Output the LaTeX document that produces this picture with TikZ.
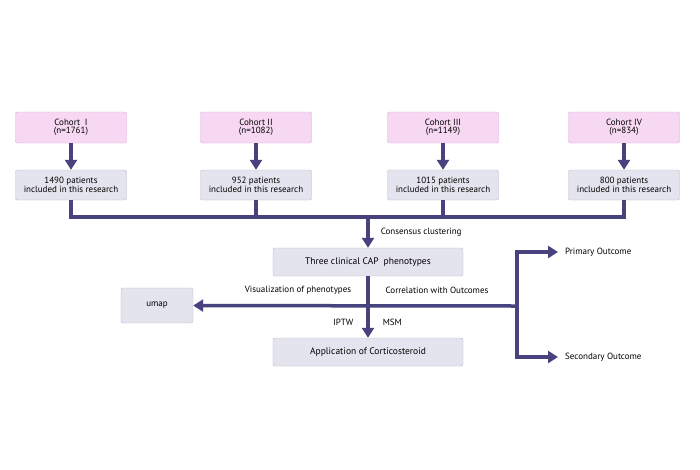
\documentclass[tikz,border=0pt]{standalone}
\usepackage{fontspec}
\setmainfont{PT Sans}
\usetikzlibrary{arrows.meta, positioning}
\definecolor{flowline}{HTML}{48437E}
\definecolor{pinkfill}{HTML}{F6D8F3}
\definecolor{pinkdraw}{HTML}{E0A2DC}
\definecolor{greyfill}{HTML}{E4E4EE}
\definecolor{greydraw}{HTML}{B8B8C8}

\begin{document}
\begin{tikzpicture}[x=1pt, y=-1pt,
    >={Triangle[length=10pt,width=12pt]},
    flow/.style={draw=flowline, line width=3.5pt},
    cohort/.style={draw=pinkdraw, fill=pinkfill, rounded corners=2pt,
      minimum width=111pt, minimum height=31pt, align=center, inner sep=1pt,
      font=\fontsize{9}{8.5}\selectfont},
    patients/.style={draw=greydraw, fill=greyfill, rounded corners=2pt,
      minimum width=111pt, minimum height=30pt, align=center, inner sep=1pt,
      font=\fontsize{9}{8.5}\selectfont},
    stage/.style={patients, minimum width=190pt, minimum height=28pt,
      font=\fontsize{9.5}{9.5}\selectfont},
    label/.style={font=\fontsize{9}{9}\selectfont, inner sep=1pt}]

    \useasboundingbox (0,0) rectangle (700,469);

    % cohorts
    \node[cohort] (c1) at (71,127.5)  {Cohort\ \ I\\(n=1761)};
    \node[cohort] (c2) at (256,127.5) {Cohort II\\(n=1082)};
    \node[cohort] (c3) at (443,127.5) {Cohort III\\(n=1149)};
    \node[cohort] (c4) at (624,127.5) {Cohort IV\\(n=834)};

    \node[patients] (p1) at (71,185)  {1490 patients\\included in this research};
    \node[patients] (p2) at (256,185) {952 patients\\included in this research};
    \node[patients] (p3) at (443,185) {1015 patients\\included in this research};
    \node[patients] (p4) at (624,185) {800 patients\\included in this research};

    \coordinate (join) at (368,217);

    \node[stage] (pheno) at (368,262) {Three clinical CAP\ \ phenotypes};
    \node[stage] (appl)  at (368,352) {Application of Corticosteroid};
    \node[patients, minimum width=72pt, minimum height=35pt] (umap) at (157,305.5) {umap};

    \coordinate (branch) at (517,306);
    \node[label, anchor=west] (prim) at (564,252) {Primary Outcome};
    \node[label, anchor=west] (sec)  at (564,357) {Secondary Outcome};

    \draw[flow,->] (c1) -- (p1);
    \draw[flow,->] (c2) -- (p2);
    \draw[flow,->] (c3) -- (p3);
    \draw[flow,->] (c4) -- (p4);

    \draw[flow] (p1.south) |- (join) -| (p4.south);
    \draw[flow] (p2.south) -- (p2.south |- join);
    \draw[flow] (p3.south) -- (p3.south |- join);
    \draw[flow,->] (join) -- (pheno)
      node[label, pos=0.5, right=10pt] {Consensus clustering};

    \draw[flow,->] (branch) -- (umap);
    \draw[flow,->] (pheno) -- (appl)
      node[label, pos=0.75, left=12pt] {IPTW}
      node[label, pos=0.75, right=12pt] {MSM};
    \draw[flow,->] (branch) |- ([xshift=-6pt]prim.west);
    \draw[flow,->] (branch) |- ([xshift=-6pt]sec.west);

    \node[label] at (298,290) {Visualization of phenotypes};
    \node[label] at (437,290) {Correlation with Outcomes};
\end{tikzpicture}
\end{document}
